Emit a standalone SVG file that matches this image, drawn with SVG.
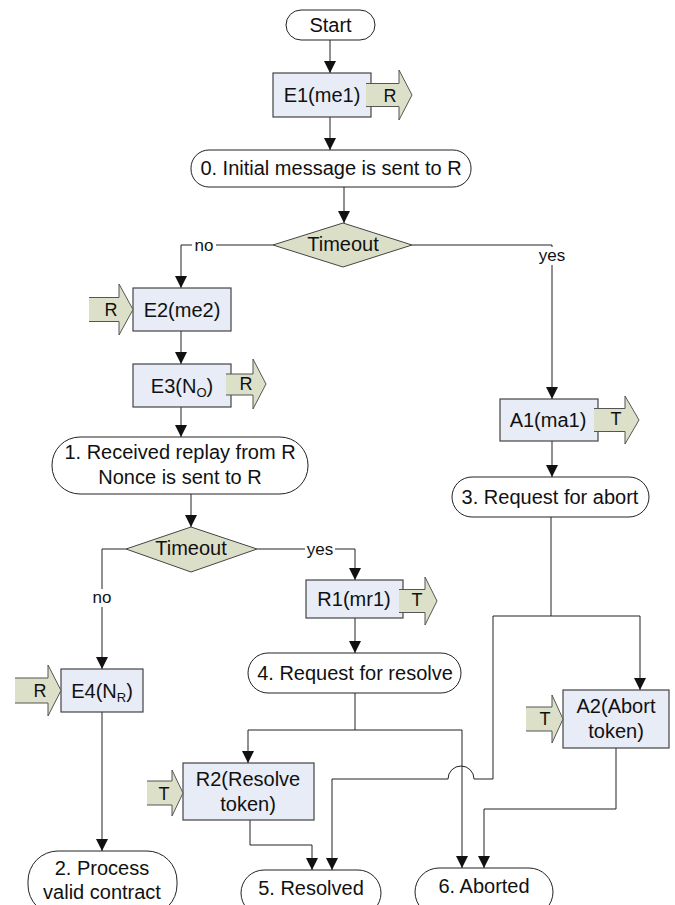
<svg xmlns="http://www.w3.org/2000/svg" width="675" height="905" viewBox="0 0 675 905">
<style>
text{font-family:"Liberation Sans",Arial,sans-serif;font-size:20px;fill:#111;text-anchor:middle}
.lbl{font-size:17px}
.mt{font-size:18px}
.term{fill:#fff;stroke:#222;stroke-width:1}
.box{fill:#E7ECF6;stroke:#444;stroke-width:1.2}
.dia{fill:#DCDFC8;stroke:#444;stroke-width:1}
.msg{fill:#DCE0C9;stroke:#555;stroke-width:1}
.con{fill:none;stroke:#222;stroke-width:1}
.bg{fill:#fff}
</style>
<defs>
<marker id="ah" viewBox="0 0 12 12" refX="12" refY="6" markerWidth="12" markerHeight="12" markerUnits="userSpaceOnUse" orient="auto">
<path d="M0,0 L12,6 L0,12 z" fill="#111"/>
</marker>
</defs>
<rect width="675" height="905" fill="#fff"/>

<g id="connectors">
<path class="con" d="M330,40 V73" marker-end="url(#ah)"/>
<path class="con" d="M330,117 V150" marker-end="url(#ah)"/>
<path class="con" d="M344,187 V223" marker-end="url(#ah)"/>
<path class="con" d="M273,245 H181 V288" marker-end="url(#ah)"/>
<path class="con" d="M412,245 H552 V399" marker-end="url(#ah)"/>
<path class="con" d="M181,331 V364" marker-end="url(#ah)"/>
<path class="con" d="M181,407 V437" marker-end="url(#ah)"/>
<path class="con" d="M191,494 V527" marker-end="url(#ah)"/>
<path class="con" d="M126,549 H102 V669" marker-end="url(#ah)"/>
<path class="con" d="M257,549 H355 V580" marker-end="url(#ah)"/>
<path class="con" d="M355,618 V653" marker-end="url(#ah)"/>
<path class="con" d="M552,441 V477" marker-end="url(#ah)"/>
<path class="con" d="M551,517 V616 M493,616 H640"/>
<path class="con" d="M640,616 V690" marker-end="url(#ah)"/>
<path class="con" d="M493,616 V779 H474 A13,13 0 0 0 448,779 H332 V870" marker-end="url(#ah)"/>
<path class="con" d="M355,693 V730 M248,730 H462"/>
<path class="con" d="M248,730 V763" marker-end="url(#ah)"/>
<path class="con" d="M462,730 V868" marker-end="url(#ah)"/>
<path class="con" d="M102,712 V851" marker-end="url(#ah)"/>
<path class="con" d="M250,820 V845 H312 V870" marker-end="url(#ah)"/>
<path class="con" d="M616,748 V809 H484 V868" marker-end="url(#ah)"/>
<rect class="bg" x="192" y="236" width="24" height="18"/>
<text class="lbl" x="204" y="251">no</text>
<rect class="bg" x="537" y="247" width="30" height="18"/>
<text class="lbl" x="552" y="261">yes</text>
<rect class="bg" x="90" y="589" width="24" height="18"/>
<text class="lbl" x="102" y="603">no</text>
<rect class="bg" x="305" y="541" width="30" height="18"/>
<text class="lbl" x="320" y="555">yes</text>
</g>

<g id="start">
<rect class="term" x="286" y="10" width="89" height="30" rx="15"/>
<text x="330.5" y="32">Start</text>
</g>

<g id="e1">
<rect class="box" x="273" y="73" width="98" height="44"/>
<text x="322" y="102">E1(me1)</text>
<polyline class="msg" points="366,83.5 399,83.5 399,70 412,95 399,120 399,106.5 366,106.5"/>
<text class="mt" x="390" y="102">R</text>
</g>

<g id="n0">
<rect class="term" x="191" y="150" width="280" height="37" rx="18"/>
<text x="331" y="175">0. Initial message is sent to R</text>
</g>

<g id="d1">
<polygon class="dia" points="273,245 343,223 412,245 343,267"/>
<text x="343" y="251">Timeout</text>
</g>

<g id="e2">
<rect class="box" x="133" y="288" width="98" height="43"/>
<text x="182" y="317">E2(me2)</text>
<polyline class="msg" points="89,297.5 119,297.5 119,284 133,309.5 119,335 119,321.5 89,321.5"/>
<text class="mt" x="111" y="316">R</text>
</g>

<g id="e3">
<rect class="box" x="133" y="364" width="98" height="43"/>
<text x="182" y="393">E3(N<tspan font-size="13" dy="4">O</tspan><tspan dy="-4">)</tspan></text>
<polyline class="msg" points="226,374 253,374 253,359 266,384 253,409 253,395 226,395"/>
<text class="mt" x="246" y="390">R</text>
</g>

<g id="n1">
<rect class="term" x="52" y="437" width="256" height="57" rx="28"/>
<text x="180" y="459">1. Received replay from R</text>
<text x="180" y="484">Nonce is sent to R</text>
</g>

<g id="d2">
<polygon class="dia" points="126,549 191,527 257,549 191,572"/>
<text x="191" y="555">Timeout</text>
</g>

<g id="a1">
<rect class="box" x="500" y="399" width="98" height="42"/>
<text x="548" y="427">A1(ma1)</text>
<polyline class="msg" points="594,408.5 625,408.5 625,396 639,420 625,444 625,431.5 594,431.5"/>
<text class="mt" x="616" y="425">T</text>
</g>

<g id="n3">
<rect class="term" x="452" y="477" width="197" height="40" rx="20"/>
<text x="550" y="504">3. Request for abort</text>
</g>

<g id="r1">
<rect class="box" x="306" y="580" width="97" height="38"/>
<text x="354" y="606">R1(mr1)</text>
<polyline class="msg" points="399,589.5 425,589.5 425,577 437,601 425,625 425,612.5 399,612.5"/>
<text class="mt" x="417" y="606">T</text>
</g>

<g id="n4">
<rect class="term" x="248" y="653" width="213" height="40" rx="20"/>
<text x="355" y="680">4. Request for resolve</text>
</g>

<g id="e4">
<rect class="box" x="61" y="669" width="82" height="43"/>
<text x="102" y="698">E4(N<tspan font-size="13" dy="4">R</tspan><tspan dy="-4">)</tspan></text>
<polyline class="msg" points="15,678 48,678 48,665 61,690.5 48,716 48,703 15,703"/>
<text class="mt" x="40" y="697">R</text>
</g>

<g id="a2">
<rect class="box" x="563" y="690" width="106" height="58"/>
<text x="616" y="713">A2(Abort</text>
<text x="616" y="738">token)</text>
<polyline class="msg" points="526,707 552,707 552,695 563,719 552,743 552,731 526,731"/>
<text class="mt" x="545" y="725">T</text>
</g>

<g id="r2">
<rect class="box" x="183" y="763" width="131" height="57"/>
<text x="248" y="786">R2(Resolve</text>
<text x="248" y="811">token)</text>
<polyline class="msg" points="147,781 172,781 172,770 183,793 172,816 172,805 147,805"/>
<text class="mt" x="164" y="800">T</text>
</g>

<g id="n2">
<rect class="term" x="28" y="851" width="149" height="64" rx="30"/>
<text x="102" y="875">2. Process</text>
<text x="102" y="899">valid contract</text>
</g>

<g id="n5">
<rect class="term" x="241" y="870" width="140" height="46" rx="23"/>
<text x="311" y="895">5. Resolved</text>
</g>

<g id="n6">
<rect class="term" x="415" y="868" width="138" height="48" rx="24"/>
<text x="484" y="893">6. Aborted</text>
</g>
</svg>
